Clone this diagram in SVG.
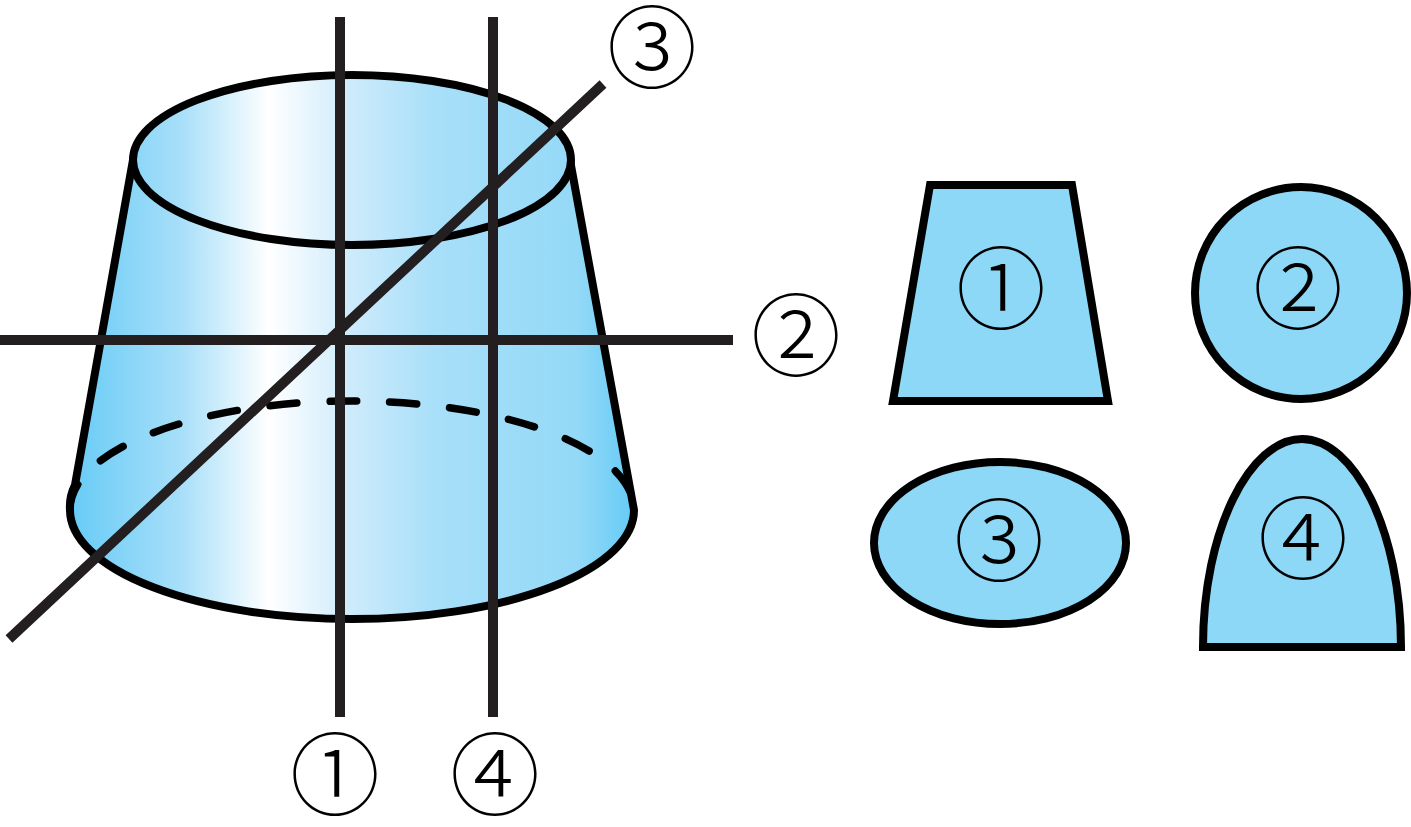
<svg xmlns="http://www.w3.org/2000/svg" width="1411" height="827" viewBox="0 0 1411 827">
<style>
.o{stroke:#000;stroke-width:8;stroke-linejoin:miter}
.s{fill:#8dd7f7}
.c{fill:none;stroke:#231f20;stroke-width:10}
.l{font-family:"Noto Sans CJK JP",sans-serif;font-weight:300;font-size:90px;text-anchor:middle;fill:#000}
</style>
<defs>
<linearGradient id="g" gradientUnits="userSpaceOnUse" x1="69" y1="0" x2="633" y2="0">
<stop offset="0" stop-color="#66cbf6"/>
<stop offset=".2" stop-color="#a8dff9"/>
<stop offset=".355" stop-color="#fff"/>
<stop offset=".5" stop-color="#cdebfb"/>
<stop offset=".65" stop-color="#a8dff9"/>
<stop offset=".9" stop-color="#94d9f7"/>
<stop offset="1" stop-color="#66cbf6"/>
</linearGradient>
</defs>
<rect width="1411" height="827" fill="#fff"/>
<g id="frustum">
<path class="o" fill="url(#g)" d="M133 160L75 485Q69 497 70 510A282 109 0 0 0 634 510L570 160Z"/>
<path fill="none" stroke="#000" stroke-width="7.5" stroke-linecap="round" stroke-dasharray="27 33" d="M70 510A282 109 0 0 1 634 510"/>
<ellipse class="o" fill="url(#g)" cx="352" cy="160" rx="219" ry="85"/>
</g>
<g id="connectors">
<path class="c" d="M340 17V717M493 17V717M0 340H733M603 84L9 639"/>
</g>
<g id="section-1"><path class="o s" d="M930 185H1072L1108 401H893Z"/><text class="l" x="1001" y="322">①</text></g>
<g id="section-2"><circle class="o s" cx="1301" cy="293" r="106"/><text class="l" x="1298" y="322">②</text></g>
<g id="section-3"><ellipse class="o s" cx="1000" cy="543" rx="126" ry="81"/><text class="l" x="999" y="574">③</text></g>
<g id="section-4"><path class="o s" d="M1203 647C1203 530 1250 439 1302 439C1354 439 1401 530 1401 647Z"/><text class="l" x="1303" y="572">④</text></g>
<g id="labels">
<text class="l" x="335" y="808">①</text>
<text class="l" x="495" y="808">④</text>
<text class="l" x="652" y="81">③</text>
<text class="l" x="796" y="369">②</text>
</g>
</svg>
